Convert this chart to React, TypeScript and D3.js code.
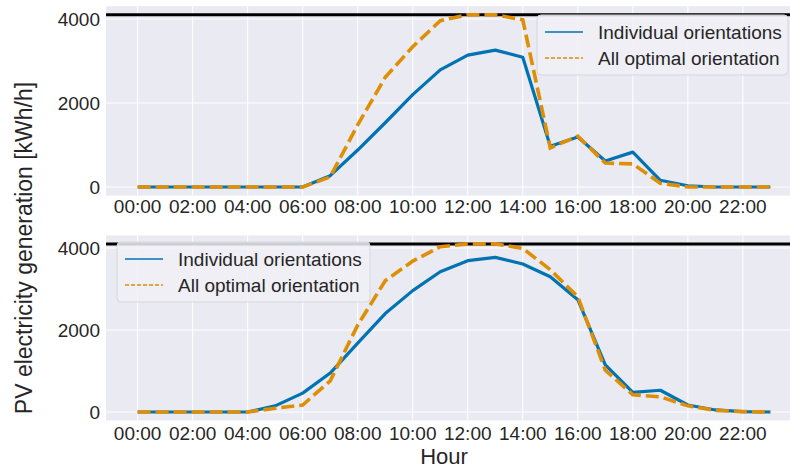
import React from "react";
import { scaleLinear, line } from "d3";

const hours = [0, 1, 2, 3, 4, 5, 6, 7, 8, 9, 10, 11, 12, 13, 14, 15, 16, 17, 18, 19, 20, 21, 22, 23];
const hourTicks = [0, 2, 4, 6, 8, 10, 12, 14, 16, 18, 20, 22];
const hourLabels = ["00:00", "02:00", "04:00", "06:00", "08:00", "10:00", "12:00", "14:00", "16:00", "18:00", "20:00", "22:00"];
const yTicks = [0, 2000, 4000];
const capacity = 4100;

// top panel
const topIndividual = [0, 0, 0, 0, 0, 0, 0, 270, 880, 1530, 2200, 2790, 3140, 3260, 3090, 970, 1190, 620, 830, 160, 30, 0, 0, 0];
const topOptimal = [0, 0, 0, 0, 0, 0, 0, 240, 1480, 2610, 3340, 3960, 4100, 4100, 3980, 930, 1210, 570, 550, 90, 0, 0, 0, 0];
// bottom panel
const bottomIndividual = [0, 0, 0, 0, 0, 150, 460, 950, 1680, 2400, 2960, 3420, 3690, 3770, 3610, 3300, 2740, 1150, 480, 530, 170, 50, 10, 0];
const bottomOptimal = [0, 0, 0, 0, 0, 90, 170, 760, 2120, 3200, 3680, 4030, 4100, 4100, 3990, 3470, 2810, 1020, 420, 370, 150, 40, 10, 0];

const seriesNames = ["Individual orientations", "All optimal orientation"];
const blue = "#0173b2";
const orange = "#de8f05";
const textColor = "#262626";
const font = "'Liberation Sans', Arial, sans-serif";

const width = 790;
const height = 470;

const xScale = scaleLinear().domain([-1.15, 24.15]).range([106, 802]);

type PanelProps = {
  individual: number[];
  optimal: number[];
  y0: number; // pixel of value 0
  y4000: number; // pixel of value 4000
  labelY: number;
  legend: { x: number; y: number; w: number };
};

const Panel = ({ individual, optimal, y0, y4000, labelY, legend }: PanelProps) => {
  const yScale = scaleLinear().domain([0, 4000]).range([y0, y4000]);
  const top = yScale(4305);
  const bottom = yScale(-205);
  const path = line<number>()
    .x((_, i) => xScale(hours[i]))
    .y((d) => yScale(d));

  return (
    <g>
      <rect x={106} y={top} width={width - 106} height={bottom - top} fill="#eaeaf2" />
      {hourTicks.map((h) => (
        <line key={h} x1={xScale(h)} x2={xScale(h)} y1={top} y2={bottom} stroke="#fff" strokeWidth={1} />
      ))}
      {yTicks.map((t) => (
        <line key={t} x1={106} x2={width} y1={yScale(t)} y2={yScale(t)} stroke="#fff" strokeWidth={1} />
      ))}
      <line x1={106} x2={width} y1={yScale(capacity)} y2={yScale(capacity)} stroke="#000" strokeWidth={3} />
      <path d={path(individual) || ""} fill="none" stroke={blue} strokeWidth={3.2} strokeLinejoin="round" />
      <path d={path(optimal) || ""} fill="none" stroke={orange} strokeWidth={3.6} strokeDasharray="13 5" />
      {hourTicks.map((h, i) => (
        <text key={h} x={xScale(h)} y={labelY} textAnchor="middle" fontSize={19} fill={textColor} fontFamily={font}>
          {hourLabels[i]}
        </text>
      ))}
      {yTicks.map((t) => (
        <text key={t} x={100} y={yScale(t)} dy="0.35em" textAnchor="end" fontSize={19} fill={textColor} fontFamily={font}>
          {t}
        </text>
      ))}
      <g transform={`translate(${legend.x}, ${legend.y})`}>
        <rect x={0} y={0} width={legend.w} height={60} rx={4} fill="#f0f0f6" fillOpacity={0.85} stroke="#d6d6de" />
        <line x1={8} x2={46} y1={17} y2={17} stroke={blue} strokeWidth={1.5} />
        <line x1={8} x2={46} y1={43} y2={43} stroke={orange} strokeWidth={1.5} strokeDasharray="4 2" />
        {seriesNames.map((n, i) => (
          <text key={n} x={61} y={17 + i * 26} dy="0.35em" fontSize={19} fill={textColor} fontFamily={font}>
            {n}
          </text>
        ))}
      </g>
    </g>
  );
};

const App = () => {
  return (
    <svg width={width} height={height} style={{ position: "absolute", left: 0, top: 0, background: "#fff" }}>
      <Panel
        individual={topIndividual}
        optimal={topOptimal}
        y0={187}
        y4000={19}
        labelY={213}
        legend={{ x: 537, y: 15, w: 251 }}
      />
      <Panel
        individual={bottomIndividual}
        optimal={bottomOptimal}
        y0={412}
        y4000={248}
        labelY={440}
        legend={{ x: 117, y: 242, w: 253 }}
      />
      <text
        transform="translate(32, 248) rotate(-90)"
        textAnchor="middle"
        fontSize={23}
        fill={textColor}
        fontFamily={font}
      >
        PV electricity generation [kWh/h]
      </text>
      <text x={444} y={464} textAnchor="middle" fontSize={22} fill={textColor} fontFamily={font}>
        Hour
      </text>
    </svg>
  );
};

export default App;
